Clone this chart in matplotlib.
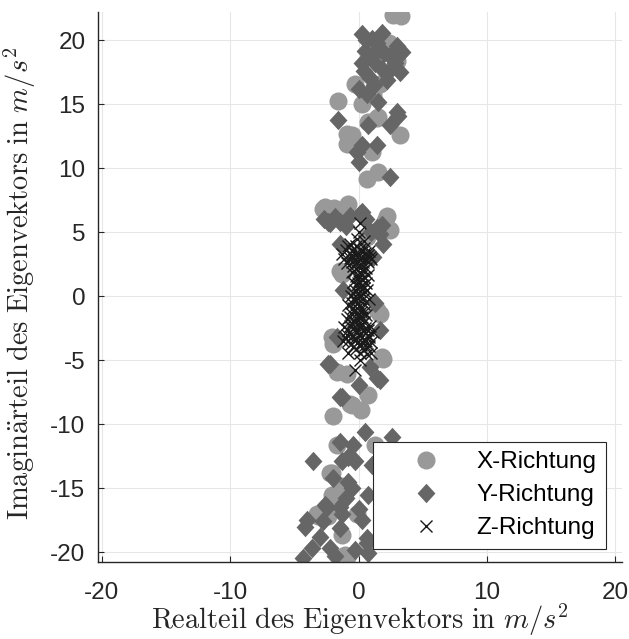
import numpy as np
import matplotlib
matplotlib.use("Agg")
import matplotlib.pyplot as plt
from matplotlib.path import Path

# X-Richtung (circles)
x_re = [2.7, 3.3, -0.27, -1.57, 1.68, 2.98, 1.5, -0.53, 0.74, 3.23, 1.03, 0.64,
        1.55, -2.74, -0.8, 2.07, -0.92, 1.4, -1.44, 2.46, 0.64, -2.09, 1.68, -1.31,
        1.42, 1.93, -0.53, 0.77, -1.96, -1.7, 1.29, -1.7, -1.96, 1.8, -0.92, -0.66,
        -2.09, -2.09, -3.13, -0.14, -1.05, -1.31, -2.22, -2.35, -0.92, -3.26, -2.6,
        -1.9, -1.2, 2.2, 1.6, 0.3, 2.4, -0.9, 1.1, -1.4, 0.2]
x_im = [22.0, 21.9, 16.6, 15.3, 16.6, 18.4, 14.0, 12.6, 13.6, 12.6, 11.3, 9.2,
        9.7, 6.85, 7.2, 5.9, 12.7, 13.9, 2.0, 5.2, 4.6, -3.2, -1.35, 1.77,
        -1.1, -4.87, -8.5, -7.7, -9.4, -11.6, -11.6, -5.9, -3.7, -4.74, -6.04, -8.4,
        -13.85, -15.5, -17.2, -17.0, -20.2, -18.7, -13.85, -17.2, -20.4, -17.0, 7.0,
        6.9, 6.6, 6.3, 5.2, 15.0, 19.8, 11.9, 15.7, -14.8, -8.9]

# Y-Richtung (diamonds)
y_re = [0.25, 1.03, 1.81, 0.51, 1.68, 2.46, 3.37, 3.23, 2.46, 1.29, 0.25, 0.9,
        0.0, 0.64, -1.57, 2.98, 0.77, 2.46, 3.1, -0.14, 0.25, 1.42, 0.0, 2.46,
        -2.35, -1.44, -0.66, 0.25, 1.42, 0.12, -2.22, 1.68, 1.9, 1.1, -1.44, -1.2,
        1.29, 1.68, -1.7, -2.35, -1.31, 0.0, 1.42, 0.9, -2.22, 1.68, -1.44, -1.44,
        -0.4, 0.51, 2.59, -3.52, -0.8, -1.31, -0.27, -0.8, -2.61, -1.44, 0.0, -4.17,
        -1.44, -2.22, -3.65, -4.3, 0.64, 0.77, 1.03, 0.77, -2.48, -1.31, -4.04, 0.64,
        0.6, 1.4, 2.0, 2.8, 1.8, 1.0, 2.2, 1.2, 0.4, 3.0, 1.5,
        -1.8, -1.0, 0.6, 1.0, -2.7, 1.8,
        -2.0, -1.0, -3.0, -2.8, -0.3, -1.8, 0.3, -0.5]
y_im = [20.5, 20.1, 20.6, 19.2, 19.35, 18.8, 19.1, 17.5, 17.65, 18.2, 18.2, 17.1,
        16.2, 15.8, 13.8, 14.4, 13.4, 13.4, 14.1, 11.3, 11.8, 11.8, 10.5, 9.3,
        5.8, 5.8, 6.3, 6.6, 5.3, 6.45, 5.7, 4.9, 4.1, 3.1, 4.1, 0.5,
        -0.55, -2.65, -3.2, -5.26, -7.9, -6.95, -6.4, -5.5, -5.26, -6.56, -7.87, -11.4,
        -11.6, -10.6, -11.0, -12.9, -12.55, -12.9, -12.9, -14.5, -16.3, -16.5, -16.6, -18.0,
        -18.15, -19.7, -19.7, -20.5, -18.9, -20.1, -13.2, -15.5, -16.5, -17.0, -17.5, -19.3,
        20.0, 19.8, 19.0, 18.2, 17.8, 18.8, 16.9, 16.5, 17.6, 19.6, 15.2,
        6.2, 5.5, 6.0, 5.0, 6.0, 5.6,
        -14.2, -15.8, -18.8, -17.6, -19.8, -20.3, -17.5, -15.0]

# Z-Richtung (crosses)
z_re = [0.12, 0.0, -0.1, -0.66, 0.4,
        -1.3, -1.0, -0.7, -0.5, -0.3, -0.1, 0.1, 0.3, 0.5, 0.7, 0.9, -0.9, -0.4, 0.2,
        0.6, -0.2, 0.0, -0.6, 0.4, 1.0,
        -0.5, -0.2, 0.1, 0.4, 0.7, -0.4, 0.0, 0.3, 0.6, -0.3, 0.1, 0.5, -0.6, -0.1,
        0.2, 0.8, -0.2,
        -0.8, -0.4, 0.0, 0.4, -0.6, -0.2, 0.2, 0.6, -0.9, -0.4, 0.1, 0.4,
        -1.1, -0.7, -0.3, 0.1, 0.5, 0.9, -0.9, -0.5, -0.1, 0.3, 0.7, 1.1, -1.2, -0.6,
        -0.2, 0.2, 0.6, 1.0, -0.4, 0.4,
        0.64, 0.12, -0.27, 1.0, -0.8,
        -0.8, -0.45, -0.15, 0.25, 0.55, 0.85, -1.15, -0.35, 0.15, -0.55, 0.35, 0.75,
        -0.35, 0.05, 0.45, 0.25, -0.15, 0.45, -0.45, 0.05, 0.35, -0.35, 0.65, 0.15,
        -0.05, 0.3,
        -0.55, -0.1, 0.25, -0.3, 0.05, 0.45, -0.65, -0.15, 0.3, -0.5, 0.0, 0.25,
        -0.85, -0.45, -0.05, 0.35, 0.75, -1.0, -0.3, 0.1, 0.45, 0.85, -0.8, -0.1,
        0.3, 0.8, -0.2, 0.1, 0.5]
z_im = [5.7, 5.0, 4.5, 4.1, 4.3,
        3.3, 3.6, 3.0, 3.5, 2.8, 3.3, 3.7, 3.0, 3.4, 2.7, 3.1, 2.6, 2.4, 2.5,
        2.2, 3.9, 2.9, 3.2, 3.8, 2.9,
        1.9, 1.6, 1.9, 1.5, 1.7, 1.1, 1.2, 0.9, 1.0, 0.5, 0.4, 0.3, 0.0, -0.1,
        0.1, -0.2, -0.4,
        -0.7, -0.9, -0.8, -0.6, -1.3, -1.4, -1.2, -1.5, -1.8, -1.9, -1.7, -2.0,
        -2.4, -2.3, -2.6, -2.4, -2.5, -2.3, -3.0, -3.1, -2.9, -3.2, -3.0, -2.8, -3.5, -3.7,
        -3.4, -3.8, -3.5, -3.6, -4.0, -4.2,
        -4.5, -5.0, -5.8, -4.4, -4.4,
        3.9, 3.15, 2.6, 3.45, 2.95, 3.5, 2.9, 3.7, 2.2, 2.7, 2.65, 3.25,
        2.0, 1.55, 2.05, 1.25, 0.85, 0.65, 0.25, 0.05, -0.25, -0.15, 0.45, 0.7,
        1.0, 1.7,
        -0.55, -0.55, -0.95, -1.15, -1.35, -1.25, -1.6, -1.75, -1.6, -2.1, -2.15, -2.2,
        -2.65, -2.5, -2.65, -2.75, -2.65, -3.25, -3.3, -3.05, -3.45, -3.2, -3.5, -3.65,
        -3.6, -3.9, -4.1, -4.4, -3.8]

labels = ["X-Richtung", "Y-Richtung", "Z-Richtung"]
xticks = [-20, -10, 0, 10, 20]
yticks = [-20, -15, -10, -5, 0, 5, 10, 15, 20]

plt.rcParams["mathtext.fontset"] = "cm"
plt.rcParams["font.family"] = ["Liberation Sans", "DejaVu Sans"]
plt.rcParams["axes.unicode_minus"] = False

# MATLAB's diamond is a touch taller than wide
diamond = Path([(0, 1), (0.92, 0), (0, -1), (-0.92, 0), (0, 1)], closed=True)

fig = plt.figure(figsize=(6.29, 6.39), dpi=100)
ax = fig.add_axes([0.1558, 0.120, 0.8326, 0.8608])

ax.plot(x_re, x_im, linestyle="none", marker="o", ms=13, mfc="#999999",
        mec="none", label=labels[0])
ax.plot(y_re, y_im, linestyle="none", marker=diamond, ms=14, mfc="#666666",
        mec="none", label=labels[1])
ax.plot(z_re, z_im, linestyle="none", marker="x", ms=8.6, mew=1.0,
        color="#1a1a1a", label=labels[2])

ax.set_xlim(-20.3, 20.5)
ax.set_ylim(-20.8, 22.2)
ax.set_xticks(xticks)
ax.set_yticks(yticks)
ax.grid(True, color="#e6e6e6", linewidth=0.75)
ax.set_axisbelow(True)

for side in ("top", "right"):
    ax.spines[side].set_visible(False)
for side in ("left", "bottom"):
    ax.spines[side].set_color("#262626")
    ax.spines[side].set_linewidth(1.0)

ax.tick_params(axis="both", direction="in", length=4, width=0.8,
               colors="#262626", labelsize=17.5)
ax.tick_params(axis="x", pad=14)
ax.tick_params(axis="y", pad=9)

ax.set_xlabel(r"$\mathrm{Realteil\ des\ Eigenvektors\ in\ }m/s^2$",
              fontsize=20.5, color="#262626")
ax.set_ylabel(r"$\mathrm{Imagin\ddot{a}rteil\ des\ Eigenvektors\ in\ }m/s^2$",
              fontsize=20.5, color="#262626")
ax.xaxis.set_label_coords(0.50, -0.073)
ax.yaxis.set_label_coords(-0.115, 0.508)

leg = ax.legend(loc="lower left", bbox_to_anchor=(0.525, 0.024, 0.445, 0.195),
                mode="expand", fontsize=17.5, frameon=True, fancybox=False,
                borderpad=0.4, labelspacing=0.45, handletextpad=0.27,
                handlelength=3.6, borderaxespad=0)
leg.get_frame().set_edgecolor("#262626")
leg.get_frame().set_linewidth(0.8)
leg.get_frame().set_alpha(1)

fig.savefig("out.png", dpi=100)
